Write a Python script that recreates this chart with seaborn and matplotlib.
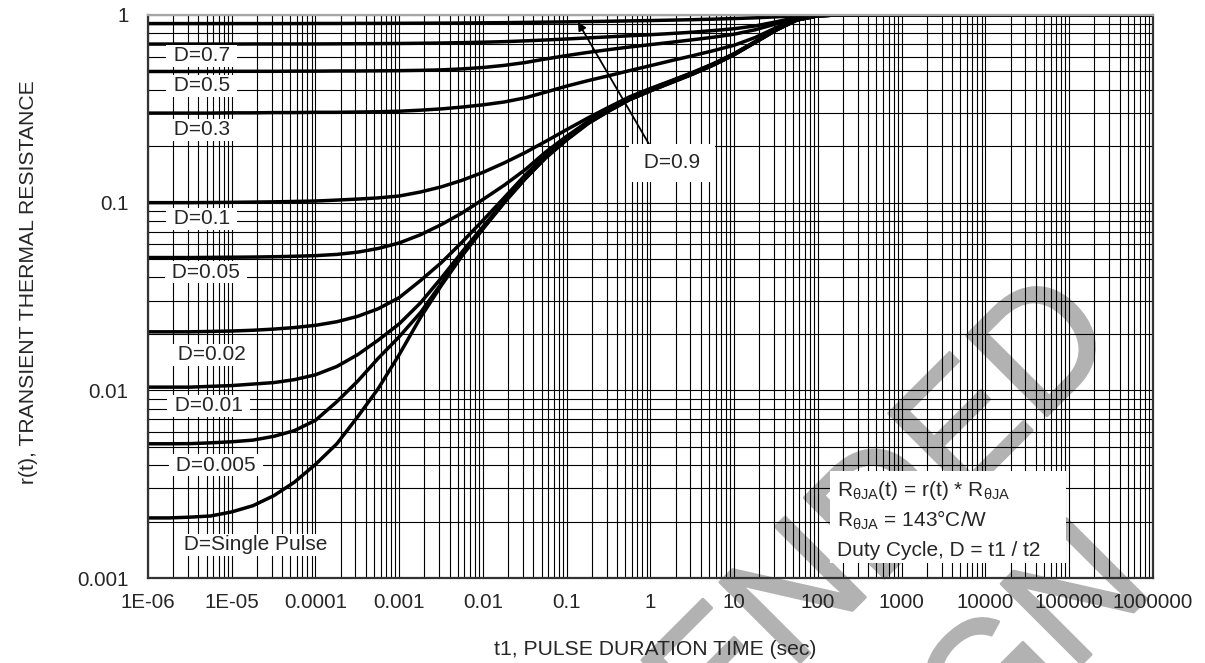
import pandas as pd
import matplotlib
matplotlib.use('Agg')
import matplotlib.pyplot as plt
import matplotlib.ticker as mticker
import matplotlib.patheffects as pe
from matplotlib.patches import Rectangle
import seaborn as sns

t_sec = [1e-6, 1.8e-6, 3.2e-6, 5.6e-6, 1e-5, 1.8e-5, 3.2e-5, 5.6e-5,
         1e-4, 1.8e-4, 3.2e-4, 5.6e-4, 1e-3, 1.8e-3, 3.2e-3, 5.6e-3,
         0.01, 0.018, 0.032, 0.056, 0.1, 0.18, 0.32, 0.56,
         1, 1.8, 3.2, 5.6, 10, 18, 32, 56, 100, 180, 1e6]

# r(t) for each duty cycle
r_single = [0.00209, 0.00209, 0.00211, 0.00214, 0.00225, 0.00243, 0.00275, 0.00324,
            0.00403, 0.00519, 0.00724, 0.0102, 0.0155, 0.0245, 0.0363, 0.0519,
            0.0724, 0.100, 0.134, 0.173, 0.216, 0.264, 0.308, 0.353,
            0.394, 0.437, 0.484, 0.540, 0.614, 0.716, 0.832, 0.940, 0.991, 1.0, 1.0]
r_d0005 = [0.00519, 0.00519, 0.0052, 0.00525, 0.00532, 0.00543, 0.00569, 0.0061,
           0.00692, 0.0087, 0.0112, 0.0148, 0.0193, 0.026, 0.0372, 0.0526,
           0.073, 0.1006, 0.1345, 0.1735, 0.2165, 0.2645, 0.3085, 0.3535,
           0.3945, 0.4375, 0.4845, 0.5405, 0.6145, 0.7163, 0.8322, 0.9402, 0.991, 1.0, 1.0]
r_d001 = [0.0104, 0.0104, 0.0104, 0.0105, 0.0106, 0.0108, 0.0110, 0.0114,
          0.0121, 0.0134, 0.0155, 0.0185, 0.0226, 0.0293, 0.0398, 0.0545,
          0.0745, 0.102, 0.136, 0.1755, 0.2185, 0.2665, 0.3105, 0.3555,
          0.3965, 0.4395, 0.4865, 0.5425, 0.6165, 0.7178, 0.8333, 0.9408, 0.991, 1.0, 1.0]
r_d002 = [0.0205, 0.0205, 0.0205, 0.0206, 0.0207, 0.0209, 0.0212, 0.0216,
          0.0222, 0.0232, 0.0248, 0.0272, 0.0312, 0.0385, 0.048, 0.0615,
          0.0805, 0.1065, 0.1405, 0.1795, 0.2225, 0.2705, 0.3145, 0.3595,
          0.4005, 0.4435, 0.4905, 0.5455, 0.6195, 0.7205, 0.8355, 0.9418, 0.9912, 1.0, 1.0]
r_d005 = [0.051, 0.051, 0.051, 0.0511, 0.0512, 0.0513, 0.0515, 0.0518,
          0.0522, 0.0530, 0.0545, 0.057, 0.061, 0.0675, 0.0765, 0.088,
          0.104, 0.124, 0.150, 0.186, 0.226, 0.271, 0.316, 0.361,
          0.402, 0.445, 0.492, 0.547, 0.621, 0.722, 0.837, 0.943, 0.9913, 1.0, 1.0]
r_d01 = [0.100, 0.100, 0.100, 0.1002, 0.1004, 0.1007, 0.101, 0.1015,
         0.102, 0.1032, 0.1045, 0.106, 0.1085, 0.114, 0.1215, 0.1315,
         0.145, 0.163, 0.185, 0.212, 0.245, 0.283, 0.323, 0.366,
         0.406, 0.448, 0.495, 0.550, 0.623, 0.723, 0.838, 0.944, 0.9915, 1.0, 1.0]
r_d03 = [0.300, 0.300, 0.300, 0.300, 0.301, 0.301, 0.302, 0.302,
         0.303, 0.303, 0.304, 0.305, 0.307, 0.311, 0.316, 0.323,
         0.332, 0.344, 0.362, 0.388, 0.418, 0.447, 0.475, 0.505,
         0.537, 0.572, 0.607, 0.645, 0.690, 0.760, 0.858, 0.953, 0.993, 1.0, 1.0]
r_d05 = [0.500, 0.500, 0.500, 0.500, 0.501, 0.501, 0.501, 0.502,
         0.502, 0.503, 0.503, 0.504, 0.505, 0.507, 0.510, 0.516,
         0.525, 0.539, 0.558, 0.583, 0.608, 0.632, 0.654, 0.675,
         0.695, 0.716, 0.738, 0.761, 0.790, 0.835, 0.898, 0.964, 0.995, 1.0, 1.0]
r_d07 = [0.700, 0.700, 0.700, 0.700, 0.700, 0.701, 0.701, 0.701,
         0.701, 0.702, 0.703, 0.704, 0.705, 0.707, 0.709, 0.712,
         0.716, 0.721, 0.728, 0.736, 0.745, 0.755, 0.765, 0.775,
         0.785, 0.797, 0.810, 0.826, 0.845, 0.875, 0.920, 0.972, 0.996, 1.0, 1.0]
r_d09 = [0.900, 0.900, 0.900, 0.900, 0.900, 0.900, 0.900, 0.900,
         0.901, 0.901, 0.902, 0.902, 0.903, 0.904, 0.905, 0.906,
         0.908, 0.910, 0.913, 0.916, 0.919, 0.922, 0.926, 0.930,
         0.934, 0.939, 0.944, 0.950, 0.957, 0.966, 0.978, 0.990, 0.998, 1.0, 1.0]

d_names = ['D=Single Pulse', 'D=0.005', 'D=0.01', 'D=0.02', 'D=0.05',
           'D=0.1', 'D=0.3', 'D=0.5', 'D=0.7', 'D=0.9']
d_curves = [r_single, r_d0005, r_d001, r_d002, r_d005, r_d01, r_d03, r_d05, r_d07, r_d09]

# where the curve labels sit (t, r)
label_t = [1.9e-5, 6.5e-6, 5.35e-6, 5.8e-6, 4.93e-6, 4.4e-6, 4.4e-6, 4.4e-6, 4.4e-6]
label_r = [0.0015, 0.0040, 0.00826, 0.01545, 0.0427, 0.0819, 0.244, 0.419, 0.605]

x_ticks = [1e-6, 1e-5, 1e-4, 1e-3, 1e-2, 1e-1, 1, 10, 100, 1e3, 1e4, 1e5, 1e6]
x_tick_labels = ['1E-06', '1E-05', '0.0001', '0.001', '0.01', '0.1', '1', '10',
                 '100', '1000', '10000', '100000', '1000000']
y_ticks = [0.001, 0.01, 0.1, 1]
y_tick_labels = ['0.001', '0.01', '0.1', '1']

df = pd.concat([pd.DataFrame({'t': t_sec, 'r': r, 'D': name})
                for name, r in zip(d_names, d_curves)], ignore_index=True)

sns.set_style('white')
plt.rcParams['font.family'] = ['Liberation Sans', 'DejaVu Sans']
plt.rcParams['mathtext.fontset'] = 'custom'
plt.rcParams['mathtext.rm'] = 'Liberation Sans'
plt.rcParams['mathtext.it'] = 'Liberation Sans:italic'

fig = plt.figure(figsize=(12.05, 6.63), dpi=100)
ax = fig.add_axes([0.1228, 0.1282, 0.834, 0.8492])
ax.set_facecolor('none')

# grey watermark behind the graph
wm_color = '#b2b2b2'
for txt, xy in [('NOT RECOMMENDED', (0.930, 0.484)), ('FOR NEW DESIGN', (0.959, 0.110))]:
    fig.text(xy[0], xy[1], txt, fontsize=119, color=wm_color, rotation=45,
             rotation_mode='anchor', ha='right', va='baseline', zorder=-1,
             path_effects=[pe.withStroke(linewidth=2, foreground=wm_color)])

ax.set_xscale('log')
ax.set_yscale('log')

sns.lineplot(data=df, x='t', y='r', units='D', estimator=None, sort=False,
             color='black', linewidth=2.5, legend=False, ax=ax, zorder=2)

ax.set_xlim(1e-6, 1e6)
ax.set_ylim(1e-3, 1)

ax.xaxis.set_major_locator(mticker.FixedLocator(x_ticks))
ax.xaxis.set_major_formatter(mticker.FixedFormatter(x_tick_labels))
ax.xaxis.set_minor_locator(mticker.LogLocator(base=10, subs=range(2, 10), numticks=50))
ax.xaxis.set_minor_formatter(mticker.NullFormatter())
ax.yaxis.set_major_locator(mticker.FixedLocator(y_ticks))
ax.yaxis.set_major_formatter(mticker.FixedFormatter(y_tick_labels))
ax.yaxis.set_minor_locator(mticker.LogLocator(base=10, subs=range(2, 10), numticks=50))
ax.yaxis.set_minor_formatter(mticker.NullFormatter())

ax.grid(True, which='both', color='black', linewidth=0.8)
ax.set_axisbelow(True)
ax.tick_params(which='both', length=0, labelsize=14.8)
ax.tick_params(axis='x', pad=11)
ax.tick_params(axis='y', pad=14)

for side in ['left', 'bottom', 'right']:
    ax.spines[side].set_color('#333333')
    ax.spines[side].set_linewidth(1.6)
ax.spines['top'].set_color('#a6a6a6')
ax.spines['top'].set_linewidth(1.6)

ax.set_xlabel('t1, PULSE DURATION TIME (sec)', fontsize=15.2)
ax.set_ylabel('r(t), TRANSIENT THERMAL RESISTANCE', fontsize=15.2)
ax.xaxis.set_label_coords(0.505, -0.110)
ax.yaxis.set_label_coords(-0.109, 0.526)

# curve labels on white strips
for name, lt, lr in zip(d_names, label_t, label_r):
    ax.text(lt, lr, ' ' + name + ' ', fontsize=15, ha='center', va='center', zorder=4,
            bbox=dict(boxstyle='square,pad=0.08', facecolor='white', edgecolor='none'))

ax.annotate(' D=0.9 ', xy=(0.136, 0.918), xytext=(1.81, 0.163), fontsize=15,
            ha='center', va='center', zorder=5,
            bbox=dict(boxstyle='square,pad=0.45', facecolor='white', edgecolor='none'),
            arrowprops=dict(arrowstyle='-|>', color='black', lw=1.3, mutation_scale=12,
                            shrinkA=0, shrinkB=0, relpos=(0.24, 1.0)))

# formula box
ax.add_patch(Rectangle((0.679, 0.027), 0.234, 0.163, transform=ax.transAxes,
                       facecolor='white', edgecolor='none', zorder=4))
box_lines = [r'R$_{\mathrm{\theta JA}}$(t) = r(t) * R$_{\mathrm{\theta JA}}$',
             r'R$_{\mathrm{\theta JA}}$ = 143°C/W',
             'Duty Cycle, D = t1 / t2']
for i, line in enumerate(box_lines):
    ax.text(0.6856, 0.1563 - i * 0.0533, line, transform=ax.transAxes, fontsize=15,
            ha='left', va='center', zorder=5)

fig.savefig('out.png', dpi=100)
